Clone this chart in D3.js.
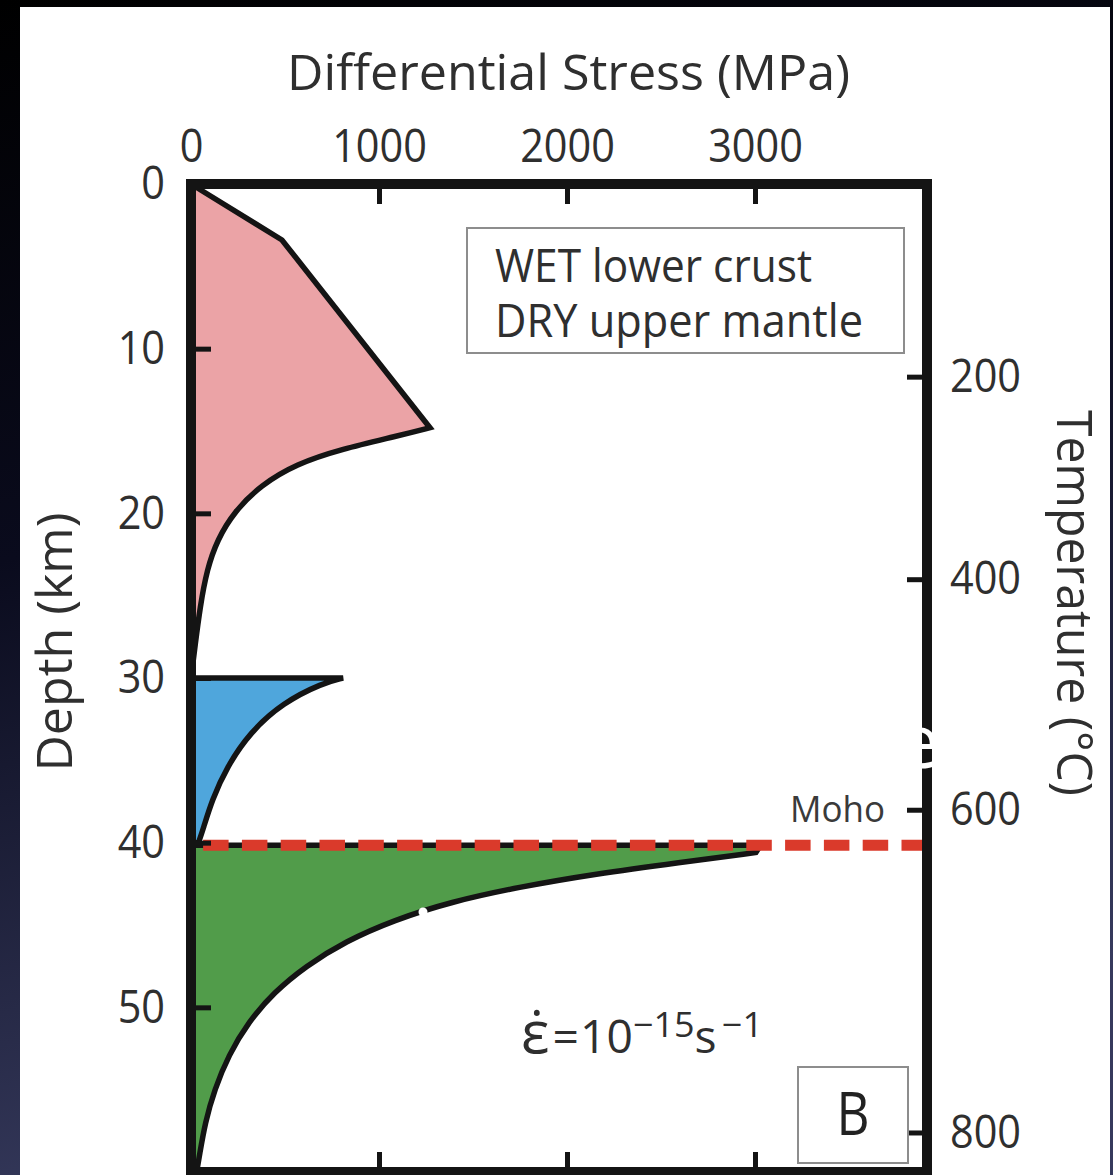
<!DOCTYPE html>
<html>
<head>
<meta charset="utf-8">
<script src="https://cdn.jsdelivr.net/npm/d3@7/dist/d3.min.js"></script>
<style>
  html, body { margin: 0; padding: 0; background: #000; }
  svg { display: block; }
  text { font-family: "Open Sans", "Noto Sans", sans-serif; }
</style>
</head>
<body>
<svg id="chart" width="1113" height="1175"></svg>
<script>
// ---- axis ticks ----
const stressTicks = [0, 1000, 2000, 3000];          // MPa, top axis
const stressTicksBottom = [1000, 2000, 3000];        // MPa, bottom axis (unlabelled)
const depthTicks = [0, 10, 20, 30, 40, 50];          // km
const tempTicks = [200, 400, 600, 800];              // deg C, right axis

// geotherm: depth (km) at which each isotherm is reached
const geothermTemp = [200, 400, 600, 800];
const geothermDepth = [11.7, 24.0, 38.0, 57.6];

// ---- strength profile: WET crust (pink) ----
// frictional part is piecewise linear, ductile part is a smooth creep curve
const crustBrittleStress = [0, 484, 1271];
const crustBrittleDepth  = [0, 3.4, 14.8];
const crustDuctileStress = [1271, 1100, 800, 560, 370, 230, 140, 85, 48, 21, 6, 0];
const crustDuctileDepth  = [14.8, 15.3, 16.1, 17.0, 18.3, 19.9, 21.6, 23.4, 25.7, 28.1, 29.5, 30.0];

// ---- WET lower crust (blue) ----
const lowerTopStress = [0, 809];
const lowerTopDepth  = [30.0, 30.0];
const lowerDuctileStress = [809, 702, 489, 314, 191, 112, 64, 40];
const lowerDuctileDepth  = [30.0, 30.3, 31.5, 33.3, 35.4, 37.4, 39.2, 40.0];
const lowerCloseStress = [0];
const lowerCloseDepth  = [40.0];

// ---- DRY upper mantle (green) ----
const mantleTopStress = [0, 3030];
const mantleTopDepth  = [40.15, 40.15];
const mantleDuctileStress = [3005, 2600, 2150, 1740, 1380, 1080, 820, 610, 440, 305, 200, 125, 75, 45, 30];
const mantleDuctileDepth  = [40.6, 41.2, 41.9, 42.7, 43.6, 44.7, 46.0, 47.5, 49.1, 50.9, 52.9, 55.0, 57.0, 59.0, 60];
const mantleCloseStress = [0];
const mantleCloseDepth  = [60];

const mohoDepth = 40.15;

// ---- text ----
const xTitle = "Differential Stress (MPa)";
const yTitle = "Depth (km)";
const y2Title = "Temperature (°C)";
const legendLines = ["WET lower crust", "DRY upper mantle"];
const mohoLabel = "Moho";
const panelLabel = "B";

// ---- layout ----
const W = 1113, H = 1175;
const plot = { left: 191, right: 927, top: 184, bottom: 1172 };

const svg = d3.select("#chart");

// slide background + white panel
const defs = svg.append("defs");
const grad = defs.append("linearGradient").attr("id", "bg")
  .attr("x1", 0).attr("y1", 0).attr("x2", 0.25).attr("y2", 1);
grad.append("stop").attr("offset", 0).attr("stop-color", "#000000");
grad.append("stop").attr("offset", 0.45).attr("stop-color", "#0a0b1d");
grad.append("stop").attr("offset", 1).attr("stop-color", "#363a5d");
svg.append("rect").attr("width", W).attr("height", H).attr("fill", "url(#bg)");
svg.append("rect").attr("x", 20).attr("y", 7).attr("width", 1090).attr("height", H - 7).attr("fill", "#ffffff");

// scales
const x = d3.scaleLinear().domain([0, 3915]).range([plot.left, plot.right]);
const y = d3.scaleLinear().domain([0, 60]).range([plot.top, plot.bottom]);
const yTemp = d3.scaleLinear().domain(geothermTemp).range(geothermDepth.map(d => y(d)));

const zip = (s, d) => s.map((v, i) => ({ s: v, d: d[i] }));
const linLine = d3.line().x(p => x(p.s)).y(p => y(p.d)).curve(d3.curveLinear);
const smoothLine = d3.line().x(p => x(p.s)).y(p => y(p.d)).curve(d3.curveBasis);

function profilePath(linPts, smoothPts, closePts) {
  let p = linLine(linPts);
  p += smoothLine(smoothPts).replace(/^M/, "L");
  if (closePts && closePts.length) p += linLine(closePts).replace(/^M/, "L");
  return p + "Z";
}

const layers = [
  { fill: "#eba3a6", lin: zip(crustBrittleStress, crustBrittleDepth), smooth: zip(crustDuctileStress, crustDuctileDepth), close: [] },
  { fill: "#4fa6dc", lin: zip(lowerTopStress, lowerTopDepth), smooth: zip(lowerDuctileStress, lowerDuctileDepth), close: zip(lowerCloseStress, lowerCloseDepth) },
  { fill: "#519c4a", lin: zip(mantleTopStress, mantleTopDepth), smooth: zip(mantleDuctileStress, mantleDuctileDepth), close: zip(mantleCloseStress, mantleCloseDepth) }
];

svg.append("g").selectAll("path").data(layers).join("path")
  .attr("d", l => profilePath(l.lin, l.smooth, l.close))
  .attr("fill", l => l.fill)
  .attr("stroke", "#141414")
  .attr("stroke-width", 5.5)
  .attr("stroke-linejoin", "miter");

// Moho (dashed red)
svg.append("line")
  .attr("x1", x(0)).attr("x2", plot.right)
  .attr("y1", y(mohoDepth)).attr("y2", y(mohoDepth))
  .attr("stroke", "#da3a2b").attr("stroke-width", 11)
  .attr("stroke-dasharray", "25.5 13.3").attr("stroke-dashoffset", 26.7);

// axes
const tickCol = "#141414";
const labCol = "#2f2f2f";
function styleAxis(g, fs) {
  g.select(".domain").remove();
  g.selectAll(".tick line").attr("stroke", tickCol).attr("stroke-width", 5);
  g.selectAll(".tick text").attr("fill", labCol).attr("font-size", fs)
    .attr("font-family", "'Open Sans', sans-serif");
}

const gTop = svg.append("g").attr("transform", `translate(0,${plot.top})`)
  .call(d3.axisTop(x).tickValues(stressTicks).tickSize(-20).tickPadding(22).tickFormat(d3.format("d")));
styleAxis(gTop, 46);

const gBottom = svg.append("g").attr("transform", `translate(0,${plot.bottom})`)
  .call(d3.axisBottom(x).tickValues(stressTicksBottom).tickSize(-20).tickFormat(""));
styleAxis(gBottom, 46);

const gLeft = svg.append("g").attr("transform", `translate(${plot.left},0)`)
  .call(d3.axisLeft(y).tickValues(depthTicks).tickSize(-20).tickPadding(26).tickFormat(d3.format("d")));
styleAxis(gLeft, 46);

const gRight = svg.append("g").attr("transform", `translate(${plot.right},0)`)
  .call(d3.axisRight(yTemp).tickValues(tempTicks).tickSize(-20).tickPadding(23).tickFormat(d3.format("d")));
styleAxis(gRight, 46);

// narrow the digit labels slightly
svg.selectAll(".tick text").each(function () {
  const t = d3.select(this);
  const w = this.getComputedTextLength();
  if (w > 0) t.attr("textLength", w * 0.9).attr("lengthAdjust", "spacingAndGlyphs");
});

// frame
svg.append("rect")
  .attr("x", plot.left).attr("y", plot.top)
  .attr("width", plot.right - plot.left).attr("height", plot.bottom - plot.top)
  .attr("fill", "none").attr("stroke", tickCol).attr("stroke-width", 10);

// helper: text fitted to a given advance width
function fitted(sel, width) {
  return sel.attr("textLength", width).attr("lengthAdjust", "spacingAndGlyphs");
}

// axis titles
fitted(svg.append("text").attr("x", 287).attr("y", 90).attr("font-size", 49)
  .attr("fill", labCol).text(xTitle), 563);

fitted(svg.append("text").attr("transform", "translate(72,642) rotate(-90)")
  .attr("text-anchor", "middle").attr("font-size", 49).attr("fill", labCol).text(yTitle), 259);

fitted(svg.append("text").attr("transform", "translate(1057,603) rotate(90)")
  .attr("text-anchor", "middle").attr("font-size", 49).attr("fill", labCol).text(y2Title), 386);

// legend box
svg.append("rect").attr("x", 467).attr("y", 228).attr("width", 437).attr("height", 125)
  .attr("fill", "#ffffff").attr("stroke", "#8d8d8d").attr("stroke-width", 2);
const legendWidths = [317, 368];
legendLines.forEach((s, i) => {
  fitted(svg.append("text").attr("x", 495).attr("y", 282 + i * 55).attr("font-size", 45)
    .attr("fill", labCol).text(s), legendWidths[i]);
});

// Moho label
fitted(svg.append("text").attr("x", 790).attr("y", 822).attr("font-size", 36)
  .attr("fill", "#3a3a3a").text(mohoLabel), 95);

// strain rate annotation
const eps = svg.append("text").attr("x", 0).attr("y", 0).attr("font-size", 45).attr("fill", labCol);
eps.append("tspan").attr("font-size", 58).text("\u03B5\u0307");
eps.append("tspan").attr("dx", 3).text("=");
eps.append("tspan").attr("dx", 1).text("10");
eps.append("tspan").attr("font-size", 35).attr("dy", -16).text("\u221215");
eps.append("tspan").attr("dy", 16).text("s");
eps.append("tspan").attr("font-size", 35).attr("dy", -16).attr("dx", 5).text("\u22121");
{
  const bb = eps.node().getBBox();
  const sx = 242 / bb.width;
  eps.attr("transform", `translate(${521 - bb.x * sx},1053) scale(${sx},1)`);
}

// panel letter
svg.append("rect").attr("x", 798).attr("y", 1067).attr("width", 110).attr("height", 96)
  .attr("fill", "#ffffff").attr("stroke", "#8d8d8d").attr("stroke-width", 2);
fitted(svg.append("text").attr("x", 853).attr("y", 1135).attr("text-anchor", "middle")
  .attr("font-size", 60).attr("fill", "#222").text(panelLabel), 33);

// stray white glyphs left over from the slide layer
svg.append("text").attr("x", 898).attr("y", 768).attr("font-size", 75).attr("fill", "#ffffff").text("e");
svg.append("circle").attr("cx", 423).attr("cy", 912).attr("r", 4.5).attr("fill", "#ffffff");
</script>
</body>
</html>
